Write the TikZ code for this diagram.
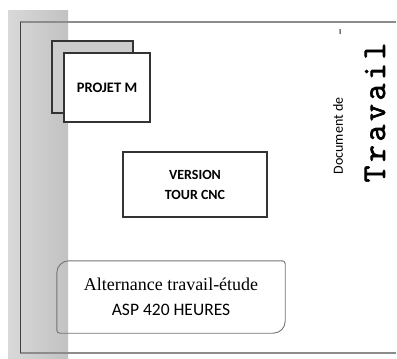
\documentclass[tikz,border=0pt]{standalone}
\usepackage{fontspec}
\setmainfont{Liberation Serif}
\setsansfont{Carlito}
\newfontfamily\monofnt[FakeBold=2,LetterSpace=10.6]{Latin Modern Mono}
\begin{document}
\begin{tikzpicture}[x=1pt,y=-1pt,
  sqbox/.style={draw=black!80, line width=1.1pt, fill=white, inner sep=0pt,
    font=\sffamily\bfseries\fontsize{14}{20}\selectfont, align=center},
  framel/.style={draw=black!45, line width=1.2pt}
]
\useasboundingbox (0,0) rectangle (397,359);
% grey band
\shade[left color=black!15, middle color=black!27, right color=black!24]
  (8,10) rectangle (68,359);
% frame lines
\draw[framel] (20,22) -- (396,22);
\draw[framel] (20,353) -- (396,353);
\draw[draw=black!75, line width=1pt] (20,22) -- (20,353);
% PROJET M stacked boxes
\node[sqbox, fill=black!20, minimum width=81pt, minimum height=72pt] (back) at (92.5,77) {};
\node[sqbox, minimum width=86pt, minimum height=69pt, font=\sffamily\bfseries\fontsize{14.5}{20}\selectfont] (projet) at (107,87.5) {PROJET M};
% VERSION box
\node[sqbox, minimum width=144pt, minimum height=65pt, line width=1.4pt] (version) at (195,184.5) {VERSION\\TOUR CNC};
% Alternance box
\node[inner sep=0pt, minimum width=228pt, minimum height=72pt, align=center,
  font=\fontsize{18}{25}\selectfont] (alt) at (171,297)
  {Alternance travail-étude\\\sffamily\fontsize{17.5}{25}\selectfont ASP 420 HEURES};
\draw[draw=black!55, line width=0.9pt]
  (alt.west) [rounded corners=12pt] |- (alt.north)
  [rounded corners=3pt] -| (alt.east)
  [rounded corners=12pt] |- (alt.south)
  [rounded corners=3pt] -| (alt.west) -- cycle;
% right side titles
\node[rotate=90, inner sep=0pt, font=\sffamily\fontsize{14}{14}\selectfont] (doc) at (338,136) {Document de};
\node[rotate=90, inner sep=0pt, font=\sffamily\fontsize{14}{14}\selectfont] (dash) at (342,32.5) {–};
\node[rotate=90, inner sep=0pt, font=\monofnt\fontsize{33}{33}\selectfont] (trav) at (375,112.5) {Travail};
\end{tikzpicture}
\end{document}
